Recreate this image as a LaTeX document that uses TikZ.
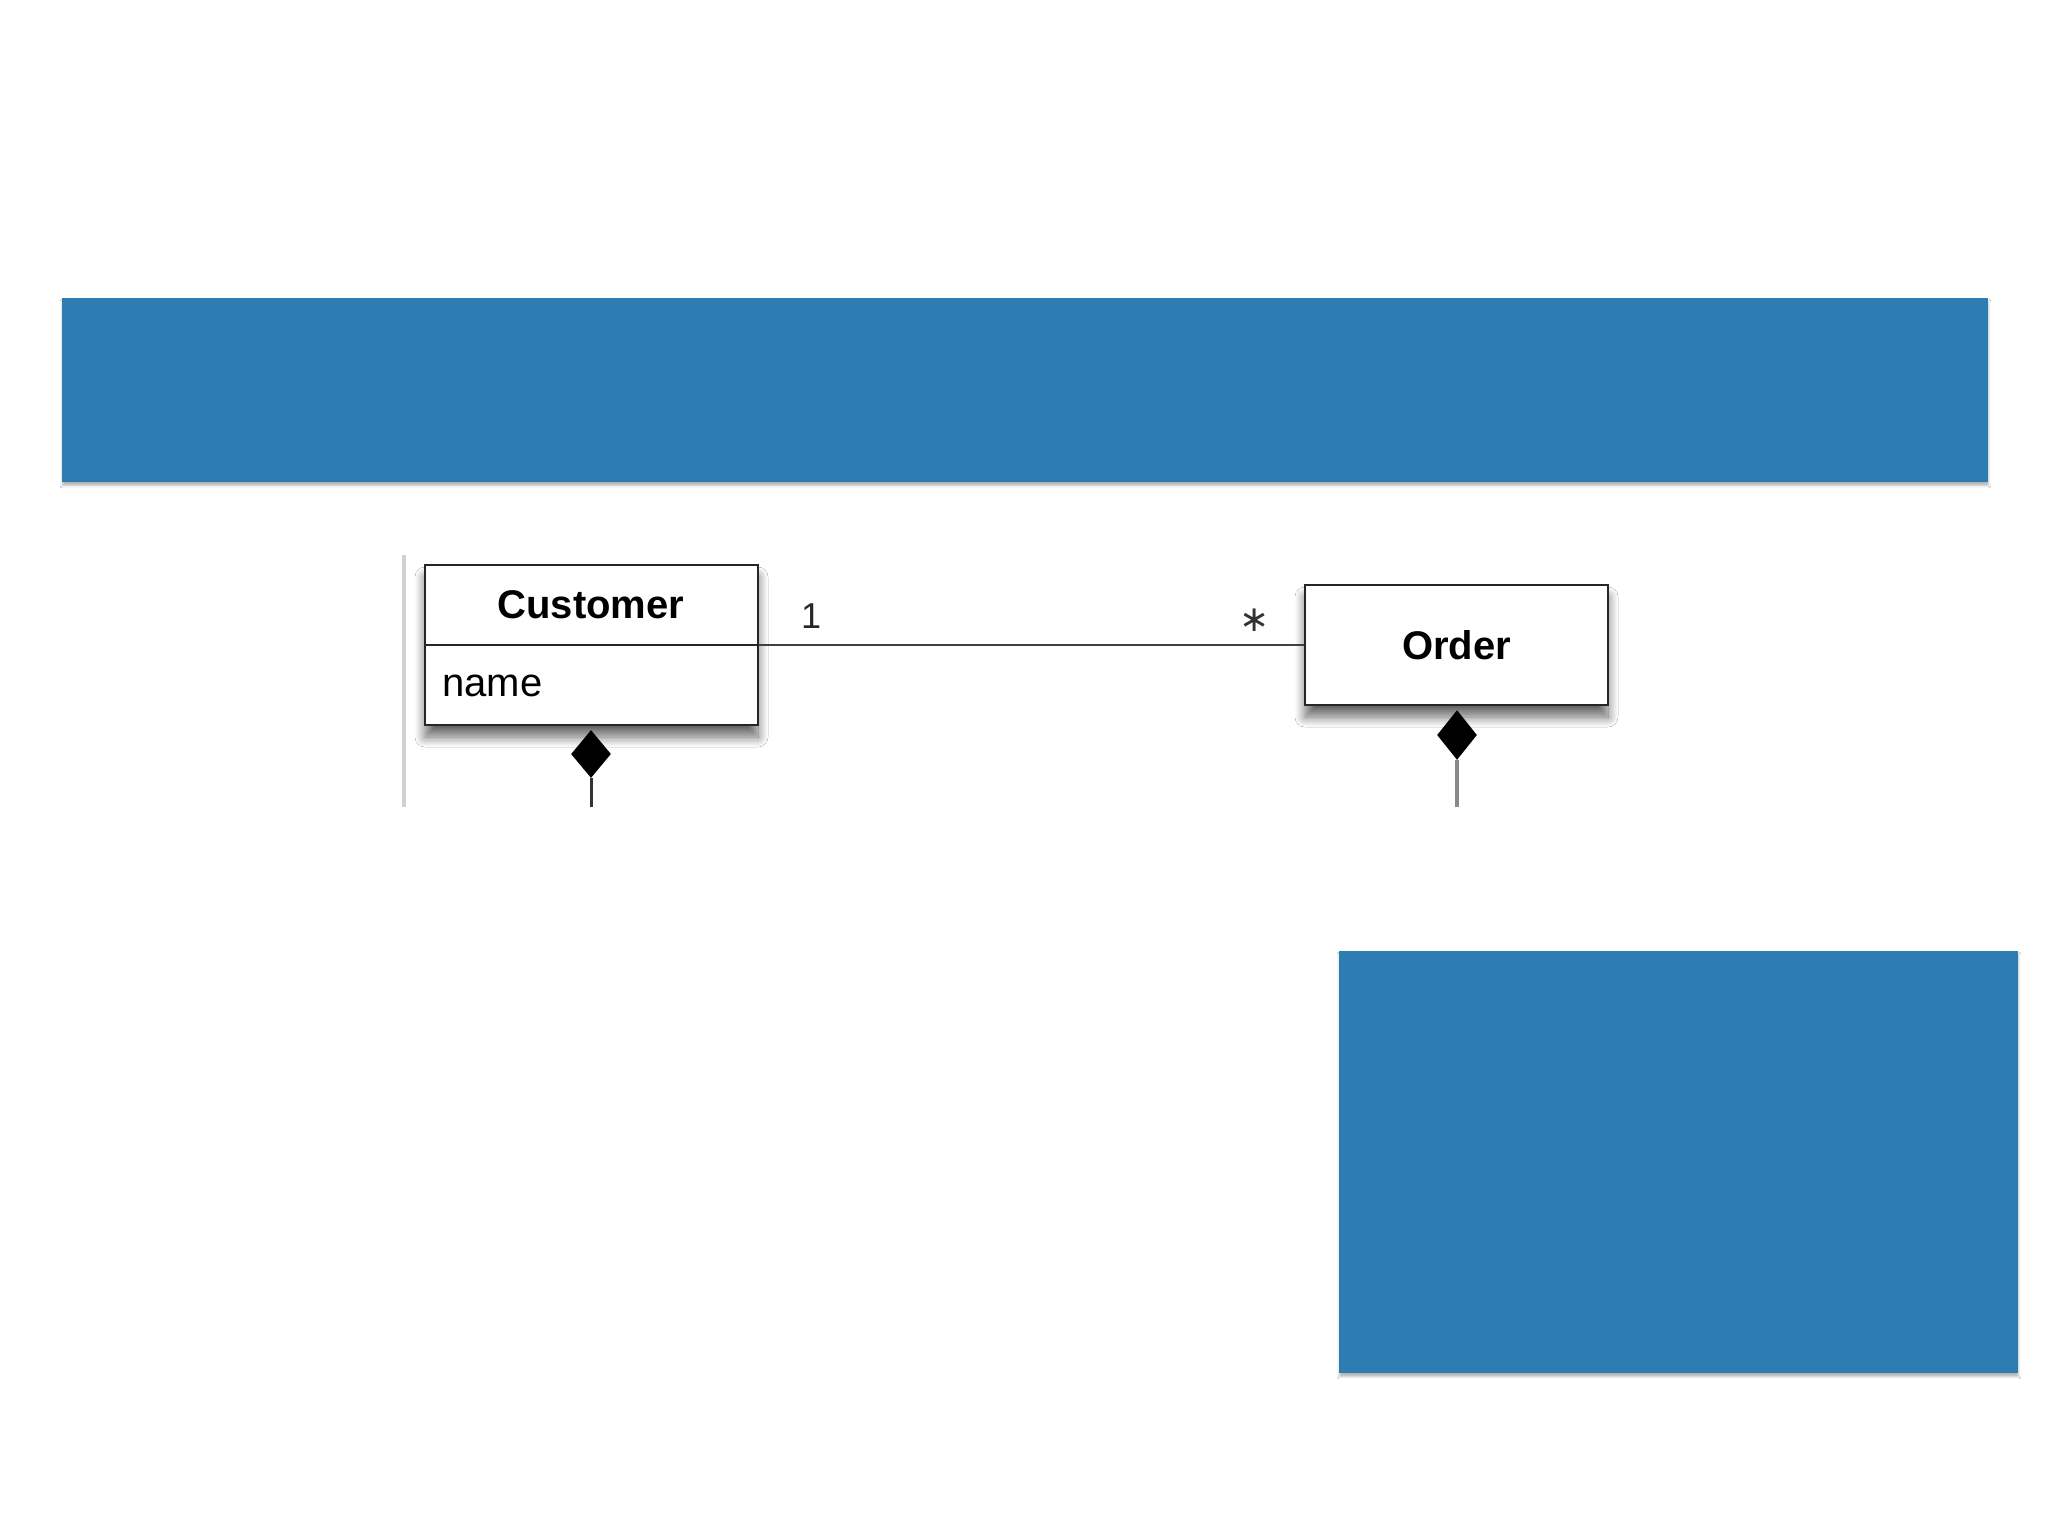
\documentclass[tikz,border=0pt]{standalone}
\usepackage{fontspec}
\setmainfont{Liberation Sans}
\newfontfamily\symfont{DejaVu Sans}
\usetikzlibrary{shapes.geometric,shadows.blur}
\definecolor{slideblue}{HTML}{2E7DB2}
\definecolor{linegray}{HTML}{8A8A8A}
\tikzset{
  panel/.style={fill=slideblue, draw=none, blur shadow={shadow xshift=0pt, shadow yshift=-1.5pt, shadow blur radius=1.2pt, shadow opacity=30}},
  classbox/.style={draw=black!85, line width=1.4pt, fill=white, inner sep=0pt,
     blur shadow={shadow xshift=0pt, shadow yshift=-6pt, shadow blur radius=5pt, shadow blur steps=12, shadow opacity=60}},
  lbl/.style={inner sep=0pt, font=\fontsize{20pt}{24pt}\selectfont},
  comp/.style={diamond, fill=black, draw=none, inner sep=0pt, minimum width=20pt, minimum height=24pt},
}
\begin{document}
\begin{tikzpicture}[x=0.5pt, y=-0.5pt]
\useasboundingbox[fill=white] (0,0) rectangle (2048,1536);
% blue panels
\node[panel, minimum width=963pt, minimum height=92pt, anchor=north west] (banner) at (62,298) {};
\node[panel, minimum width=339.5pt, minimum height=211pt, anchor=north west] (panel2) at (1339,951) {};
% left gray rule
\draw[line width=2pt, draw=black!18] (404,555) -- (404,807);
% Customer class
\node[classbox, minimum width=166.5pt, minimum height=80pt] (cust) at (591.5,645) {};
\draw[line width=1.4pt, draw=black!85] (cust.west) -- (cust.east);
\node[lbl, font=\fontsize{20pt}{24pt}\selectfont\bfseries] (custname) at (591,605) {Customer};
\node[lbl, anchor=west] (custattr) at (442,686) {name};
% Order class
\node[classbox, minimum width=151.5pt, minimum height=60pt] (order) at (1456.5,645) {};
\node[lbl, font=\fontsize{20pt}{24pt}\selectfont\bfseries] (ordername) at (order.center) {Order};
% association
\draw[line width=1.3pt, draw=black!75] (cust.east) -- (order.west);
\node[lbl, font=\fontsize{18pt}{22pt}\selectfont, text=black!85] (mult1) at (811,616) {1};
\node[lbl, font=\fontsize{18pt}{22pt}\selectfont\symfont, text=black!80] (multn) at (1255,620) {∗};
% compositions
\node[comp] (custdia) at (591,754) {};
\coordinate (custend) at (591,807);
\draw[line width=1.5pt, draw=black!80] (custdia.south) -- (custend);
\node[comp, minimum width=20pt, minimum height=25pt] (orderdia) at (1457,735) {};
\coordinate (orderend) at (1457,807);
\draw[line width=1.6pt, draw=linegray] (orderdia.south) -- (orderend);
\end{tikzpicture}
\end{document}
